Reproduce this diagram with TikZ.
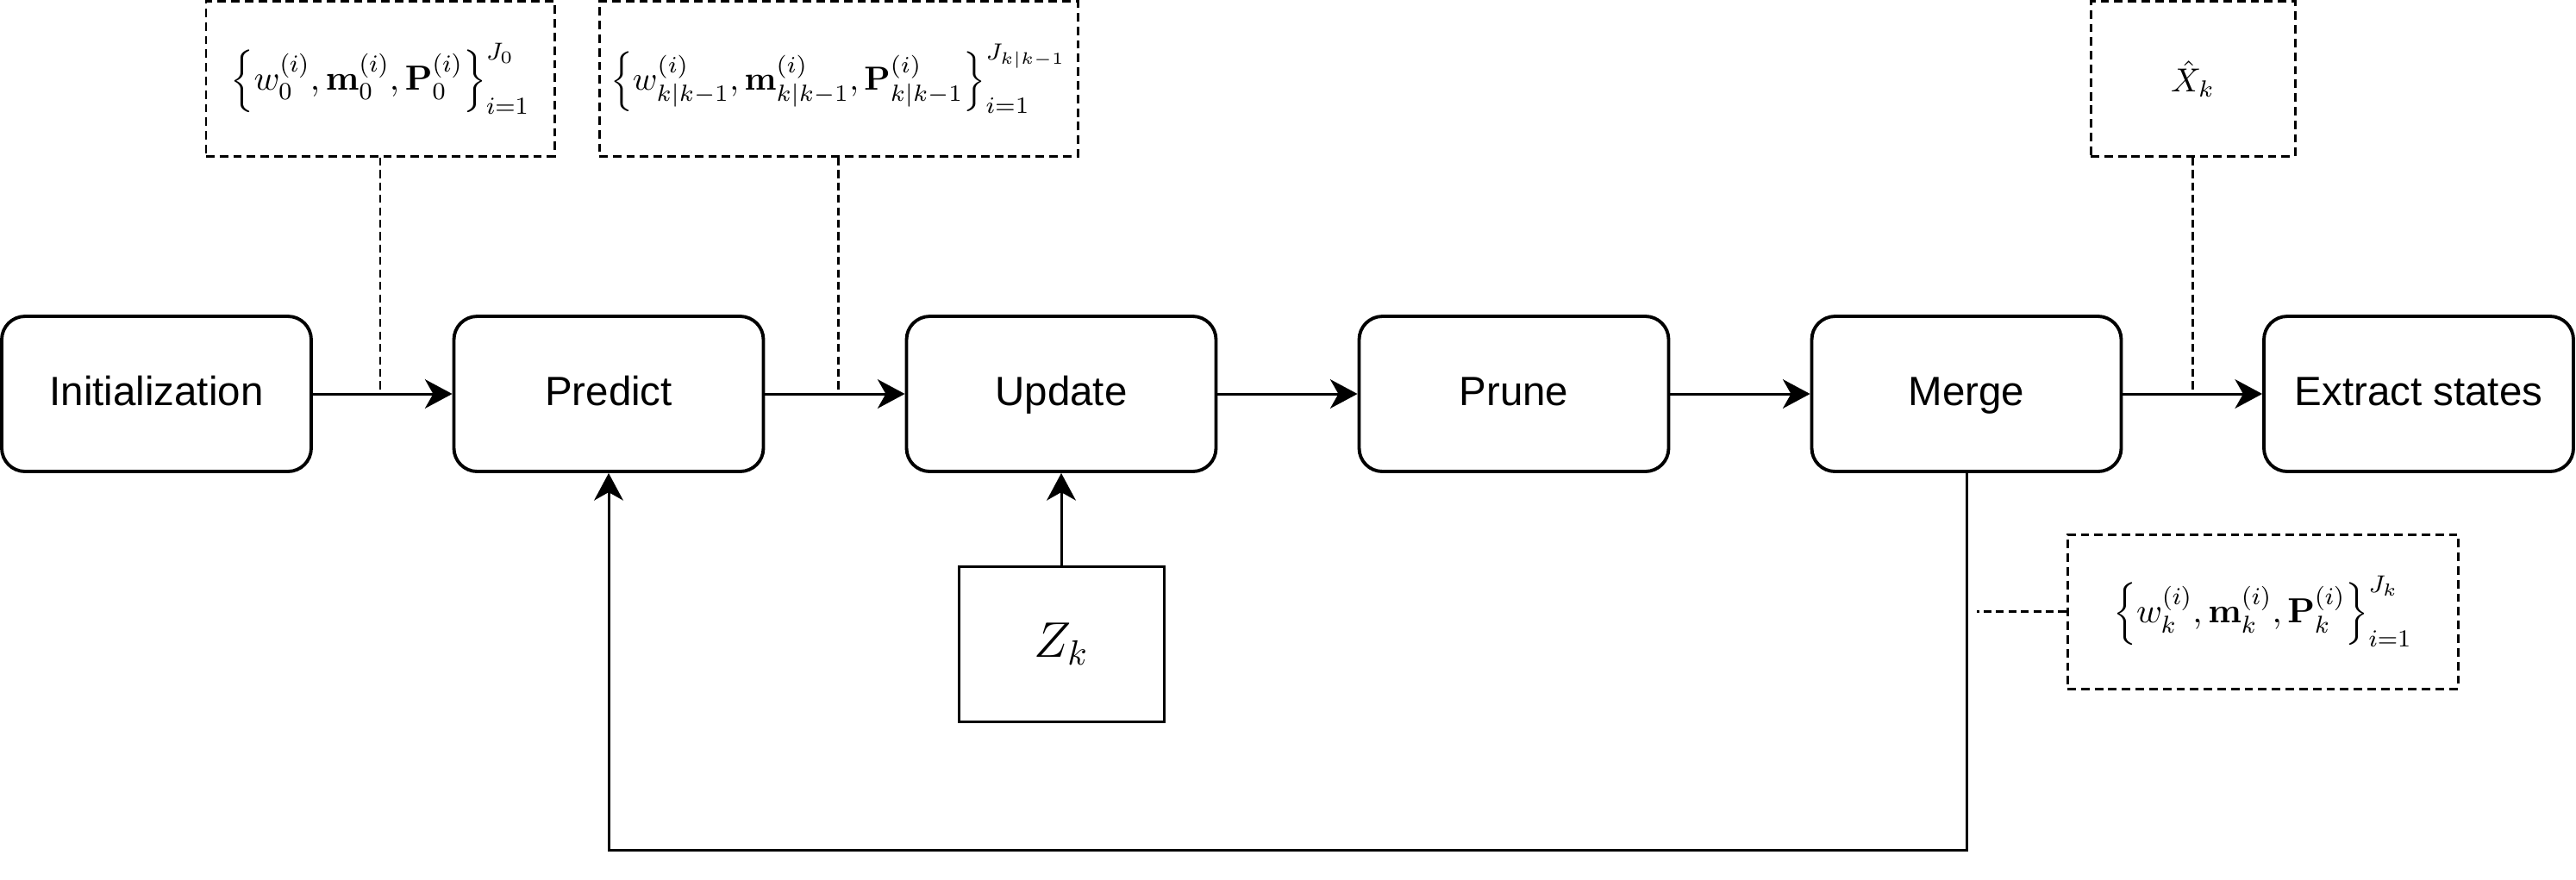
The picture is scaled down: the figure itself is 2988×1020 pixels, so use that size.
\documentclass[tikz,border=0pt]{standalone}
\usepackage{fix-cm}
\usepackage{amsmath,amssymb,bm}
\usepackage[no-math]{fontspec}
\newfontfamily\helv{Liberation Sans}
\usepackage{xcolor}
\usetikzlibrary{arrows.meta,calc,positioning}
\tikzset{
  stepbox/.style={draw, rounded corners=2.7mm, line width=1.1pt, minimum width=35.9mm, minimum height=18mm, inner sep=0pt, text height=9.7pt, text depth=2pt, font=\helv\fontsize{13.5}{16}\selectfont},
  databox/.style={draw, dash pattern=on 2.8pt off 1.7pt, line width=0.85pt, minimum height=18mm, inner sep=0pt, font=\fontsize{11.5}{13}\selectfont},
  measbox/.style={draw, line width=0.85pt, minimum width=23.8mm, minimum height=18mm, inner sep=0pt, font=\fontsize{16.5}{19}\selectfont},
  flow/.style={-{Stealth[length=9pt, width=9.6pt, inset=2.7pt]}, line width=0.85pt},
  link/.style={dash pattern=on 2.6pt off 1.5pt, line width=0.7pt}
}

\begin{document}
\begin{tikzpicture}[x=0.1mm, y=-0.1mm]
  \useasboundingbox (0,0) rectangle (2988,1020);
  % filter steps
  \node[stepbox] (init) at (181.5,457) {Initialization};
  \node[stepbox] (predict) at (706,457) {Predict};
  \node[stepbox] (update) at (1231,457) {Update};
  \node[stepbox] (prune) at (1756,457) {Prune};
  \node[stepbox] (merge) at (2281,457) {Merge};
  \node[stepbox] (extract) at (2805.5,457) {Extract states};
  % Gaussian mixtures and estimates
  \node[databox, minimum width=40.4mm] (prior) at (441,91.5) {$\left\{ w_0^{(i)}, \mathbf{m}_0^{(i)}, \mathbf{P}_0^{(i)} \right\}_{i=1}^{J_0}$};
  \node[databox, minimum width=55.5mm, font=\fontsize{11}{13}\selectfont] (predmix) at (972.5,91.5) {$\left\{ w_{k|k-1}^{(i)}, \mathbf{m}_{k|k-1}^{(i)}, \mathbf{P}_{k|k-1}^{(i)} \right\}_{i=1}^{J_{k|k-1}}$};
  \node[databox, minimum width=23.7mm, font=\fontsize{11}{13}\selectfont] (xhat) at (2543.5,91.5) {$\hat{X}_k$};
  \node[databox, minimum width=45.3mm, minimum height=17.9mm] (postmix) at (2624.5,709.5) {$\left\{ w_k^{(i)}, \mathbf{m}_k^{(i)}, \mathbf{P}_k^{(i)} \right\}_{i=1}^{J_k}$};
  \node[measbox] (meas) at (1231,747) {$Z_k$};
  % main chain
  \draw[flow] (init) -- (predict);
  \draw[flow] (predict) -- (update);
  \draw[flow] (update) -- (prune);
  \draw[flow] (prune) -- (merge);
  \draw[flow] (merge) -- (extract);
  \draw[flow] (meas.north) -- (meas.north |- update.south);
  \draw[flow] (merge.south) -- (merge.south |- 0,986) -| (predict.south);
  % dashed annotations
  \draw[link] (prior.south) -- (prior.south |- init.east);
  \draw[link] (predmix.south) -- (predmix.south |- predict.east);
  \draw[link] (xhat.south) -- ([yshift=0.4mm]xhat.south |- merge.east);
  \coordinate (tap) at ([xshift=1.2mm]merge.south |- postmix.west);
  \draw[link] (postmix.west) -- (tap);
\end{tikzpicture}
\end{document}
